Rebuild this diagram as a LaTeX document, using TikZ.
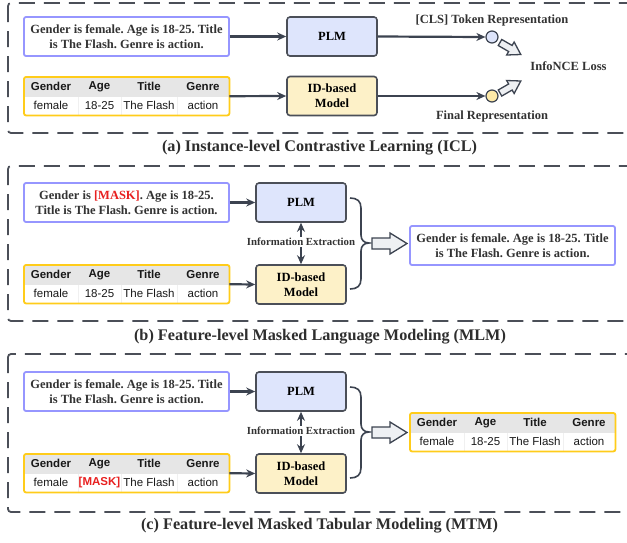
\documentclass[tikz,border=0pt]{standalone}
\usepackage{fontspec}
\setmainfont{Liberation Serif}
\newfontfamily\tabfont{Liberation Sans}
\usetikzlibrary{arrows.meta}
\frenchspacing

\definecolor{dashc}{HTML}{4B4F58}
\definecolor{arrc}{HTML}{3C4350}
\definecolor{txtc}{HTML}{333333}
\definecolor{plmfill}{HTML}{DEE5FC}
\definecolor{idfill}{HTML}{FDF1C8}
\definecolor{blueb}{HTML}{9696FF}
\definecolor{yelb}{HTML}{FFCC1A}
\definecolor{hdrc}{HTML}{E6E6E6}
\definecolor{maskc}{HTML}{E82020}
\definecolor{barfill}{HTML}{EEF0F3}
\definecolor{circb}{HTML}{DDE4FA}
\definecolor{circy}{HTML}{FDE9A8}

\newcommand{\serf}{\fontsize{12.5}{15}\selectfont\bfseries}
\newcommand{\mktab}[4]{%
  \node[tabbg, anchor=north west] (#3) at (#1,#2) {};
  \fill[hdrc] (#1+0.5,#2+0.5) rectangle (#1+204.5,#2+19.5);
  \draw[sepline] (#1+54,#2+19.5) -- (#1+54,#2+38);
  \draw[sepline] (#1+97,#2+19.5) -- (#1+97,#2+38);
  \draw[sepline] (#1+153,#2+19.5) -- (#1+153,#2+38);
  \draw[tabborder] (#3.north west) rectangle (#3.south east);
  \node[th] (#3-h1) at (#1+27,#2+9.75) {Gender};
  \node[th] (#3-h2) at (#1+75.5,#2+9.75) {Age};
  \node[th] (#3-h3) at (#1+125,#2+9.75) {Title};
  \node[th] (#3-h4) at (#1+179,#2+9.75) {Genre};
  \node[td] (#3-d1) at (#1+27,#2+28.75) {female};
  \node[td] (#3-d2) at (#1+75.5,#2+28.75) {#4};
  \node[td] (#3-d3) at (#1+125,#2+28.75) {The Flash};
  \node[td] (#3-d4) at (#1+179,#2+28.75) {action};
}

\begin{document}
\begin{tikzpicture}[x=1pt,y=-1pt,
  panel/.style={draw=dashc, line width=1.8pt, dash pattern=on 16pt off 9pt, rounded corners=3pt},
  txtbox/.style={draw=blueb, line width=1.8pt, rounded corners=2pt, fill=white,
    minimum width=205pt, minimum height=39pt, inner sep=0pt, align=center, text=txtc, font=\serf},
  model/.style={draw=dashc, line width=1.6pt, rounded corners=3pt,
    minimum width=90pt, minimum height=39pt, inner sep=0pt, align=center, text=black, font=\serf},
  plm/.style={model, fill=plmfill},
  idm/.style={model, fill=idfill},
  tabbg/.style={fill=white, minimum width=205pt, minimum height=38pt, inner sep=0pt},
  tabborder/.style={draw=yelb, line width=1.8pt, rounded corners=2pt},
  sepline/.style={draw=gray!12, line width=0.6pt},
  th/.style={font=\tabfont\fontsize{11.5}{13}\selectfont\bfseries, text=black!90, inner sep=0pt},
  td/.style={font=\tabfont\fontsize{11.5}{13}\selectfont, text=black!90, inner sep=0pt},
  conn/.style={draw=arrc, line width=2.2pt, -{Stealth[length=9pt,width=8pt]}},
  dconn/.style={draw=arrc, line width=2.2pt, {Stealth[length=9pt,width=8pt]}-{Stealth[length=9pt,width=8pt]}},
  lbl/.style={text=txtc, font=\serf, inner sep=0pt},
  smalllbl/.style={text=txtc, font=\fontsize{10.8}{12}\selectfont\bfseries, fill=white, inner sep=1.5pt},
  caption/.style={text=txtc!90!black, font=\fontsize{16.2}{18}\selectfont\bfseries, inner sep=0pt},
  blockarr/.style={draw=arrc, fill=barfill, line width=1.3pt, line join=miter},
  brace/.style={draw=arrc, line width=1.6pt},
  repc/.style={circle, draw=arrc, line width=1.2pt, minimum size=12pt, inner sep=0pt}
]
\useasboundingbox (0,0) rectangle (627,542);
\clip (0,0) rectangle (627,542);

% ---------- panels ----------
\draw[panel] (8,3) rectangle (645,133);
\draw[panel] (8,166) rectangle (645,321);
\draw[panel] (8,354) rectangle (645,512);

\node[caption] (capa) at (319.5,148) {(a) Instance-level Contrastive Learning (ICL)};
\node[caption] (capb) at (320,337) {(b) Feature-level Masked Language Modeling (MLM)};
\node[caption] (capc) at (319.5,526) {(c) Feature-level Masked Tabular Modeling (MTM)};

% ---------- (a) ----------
\node[txtbox] (ta) at (126.5,36.5) {Gender is female. Age is 18-25. Title\\is The Flash. Genre is action.};
\mktab{24}{77}{taba}{18-25}
\node[plm] (plma) at (332,36.5) {PLM};
\node[idm] (ida) at (332,96) {ID-based\\Model};
\node[repc, fill=circb] (ca) at (492,37) {};
\node[repc, fill=circy] (cb) at (492,96) {};
\draw[conn] (ta.east) -- (plma.west);
\draw[conn] (taba.east) -- (ida.west);
\draw[conn] (plma.east) -- (ca.west);
\draw[conn] (ida.east) -- (cb.west);
\node[lbl] (clsl) at (492,20) {[CLS] Token Representation};
\node[lbl] (finl) at (492,116) {Final Representation};
\node[lbl] (nce) at (568.5,66) {InfoNCE Loss};
\begin{scope}[shift={(500,42.5)}, rotate=-30]
  \draw[blockarr] (0,-3.5) -- (12,-3.5) -- (12,-7.5) -- (24,0) -- (12,7.5) -- (12,3.5) -- (0,3.5) -- cycle;
\end{scope}
\begin{scope}[shift={(500,93)}, rotate=30]
  \draw[blockarr] (0,-3.5) -- (12,-3.5) -- (12,-7.5) -- (24,0) -- (12,7.5) -- (12,3.5) -- (0,3.5) -- cycle;
\end{scope}

% ---------- (b) ----------
\node[txtbox] (tb) at (126.5,202.5) {Gender is \textcolor{maskc}{[MASK]}. Age is 18-25.\\Title is The Flash. Genre is action.};
\mktab{24}{265}{tabb}{18-25}
\node[plm] (plmb) at (301,202.5) {PLM};
\node[idm] (idb) at (301,284.5) {ID-based\\Model};
\draw[conn] (tb.east) -- (plmb.west);
\draw[conn] (tabb.east) -- (idb.west);
\draw[dconn] (plmb.south) -- (idb.north);
\node[smalllbl] (infb) at (301,242) {Information Extraction};
\draw[brace] (350,198) .. controls (357,198) and (361,201) .. (361,208) -- (361,235)
  .. controls (361,240) and (364,243) .. (369,243)
  .. controls (364,243) and (361,246) .. (361,251) -- (361,279)
  .. controls (361,286) and (357,289) .. (350,289);
\draw[blockarr] (372,238) -- (390,238) -- (390,233) -- (407,243.5) -- (390,254) -- (390,249) -- (372,249) -- cycle;
\node[txtbox] (outb) at (512.5,245.5) {Gender is female. Age is 18-25. Title\\is The Flash. Genre is action.};

% ---------- (c) ----------
\node[txtbox] (tc) at (126.5,391.5) {Gender is female. Age is 18-25. Title\\is The Flash. Genre is action.};
\mktab{24}{454}{tabc}{\textcolor{maskc}{\bfseries[MASK]}}
\node[plm] (plmc) at (301,391.5) {PLM};
\node[idm] (idc) at (301,473.5) {ID-based\\Model};
\draw[conn] (tc.east) -- (plmc.west);
\draw[conn] (tabc.east) -- (idc.west);
\draw[dconn] (plmc.south) -- (idc.north);
\node[smalllbl] (infc) at (301,431) {Information Extraction};
\draw[brace] (350,387) .. controls (357,387) and (361,390) .. (361,397) -- (361,424)
  .. controls (361,429) and (364,432) .. (369,432)
  .. controls (364,432) and (361,435) .. (361,440) -- (361,468)
  .. controls (361,475) and (357,478) .. (350,478);
\draw[blockarr] (372,427) -- (390,427) -- (390,422) -- (407,432.5) -- (390,443) -- (390,438) -- (372,438) -- cycle;
\mktab{410}{413}{outc}{18-25}
\end{tikzpicture}
\end{document}
